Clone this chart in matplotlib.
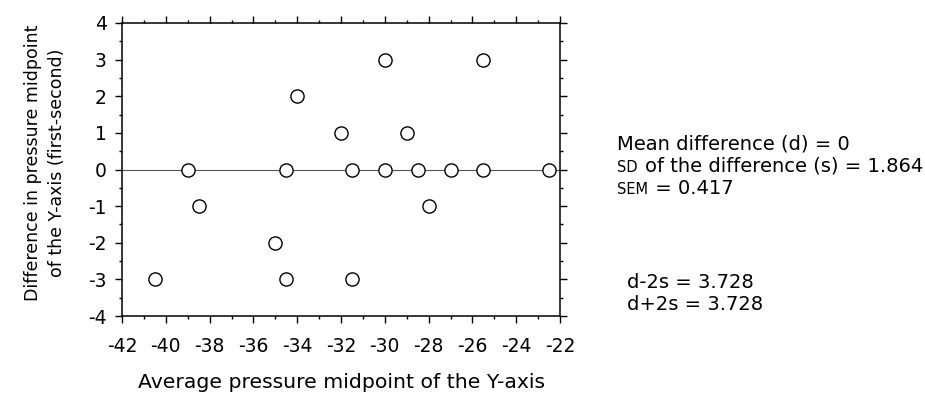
import matplotlib
matplotlib.use("Agg")
import matplotlib.pyplot as plt
from matplotlib.ticker import MultipleLocator

# Bland-Altman style data: average vs difference of Y-axis pressure midpoint
avg_pressure = [-40.5, -39, -38.5, -35, -34.5, -34.5, -34, -32, -31.5, -31.5,
                -30, -30, -29, -28.5, -28, -27, -25.5, -25.5, -22.5]
diff_pressure = [-3, 0, -1, -2, 0, -3, 2, 1, 0, -3,
                 3, 0, 1, 0, -1, 0, 3, 0, 0]

x_ticks = list(range(-42, -21, 2))
y_ticks = list(range(-4, 5))

mean_diff = 0
sd_diff = 1.864
sem_diff = 0.417
d_minus_2s = 3.728
d_plus_2s = 3.728

W, H = 925, 394
plt.rcParams["font.family"] = ["DejaVu Sans"]

fig = plt.figure(figsize=(W / 100, H / 100), dpi=100)
ax = fig.add_axes([122 / W, 1 - 316 / H, (560 - 122) / W, (316 - 23) / H])

ax.axhline(mean_diff, color="#555555", lw=0.8, zorder=1)
ax.plot(avg_pressure, diff_pressure, "o", ms=9.5, mfc="white", mec="black",
        mew=1.0, zorder=3)

ax.set_xlim(x_ticks[0], x_ticks[-1])
ax.set_ylim(y_ticks[0], y_ticks[-1])
ax.set_xticks(x_ticks)
ax.set_yticks(y_ticks)
ax.set_xticklabels([str(t) for t in x_ticks])
ax.set_yticklabels([str(t) for t in y_ticks])
ax.xaxis.set_minor_locator(MultipleLocator(1))
ax.yaxis.set_minor_locator(MultipleLocator(0.5))
ax.tick_params(which="both", direction="out", top=True, right=True,
               labelsize=13.5, width=1.0)
ax.tick_params(axis="x", pad=10)
ax.tick_params(axis="y", pad=6)
ax.tick_params(which="major", length=5)
ax.tick_params(which="minor", length=2.5)
for sp in ax.spines.values():
    sp.set_linewidth(1.1)

ax.set_xlabel("Average pressure midpoint of the Y-axis", fontsize=14.7, labelpad=12)
fig.text(45 / W, 1 - 163 / H, "Difference in pressure midpoint\nof the Y-axis (first-second)",
         rotation=90, ha="center", va="center", fontsize=12.5, linespacing=1.38)

# statistics block on the right
fs = 14
sc = 10.5
fig.text(617 / W, 1 - 150 / H, f"Mean difference (d) = {mean_diff}",
         fontsize=fs, va="baseline")
t_sd = fig.text(617 / W, 1 - 172 / H, "SD", fontsize=sc, va="baseline")
t_sem = fig.text(617 / W, 1 - 194 / H, "SEM", fontsize=sc, va="baseline")
fig.text(627 / W, 1 - 288 / H, f"d-2s = {d_minus_2s}", fontsize=fs, va="baseline")
fig.text(627 / W, 1 - 310 / H, f"d+2s = {d_plus_2s}", fontsize=fs, va="baseline")

fig.canvas.draw()
r = fig.canvas.get_renderer()
e_sd = t_sd.get_window_extent(r)
e_sem = t_sem.get_window_extent(r)
fig.text((e_sd.x1 + 7) / W, 1 - 172 / H, f"of the difference (s) = {sd_diff}",
         fontsize=fs, va="baseline")
fig.text((e_sem.x1 + 1) / W, 1 - 194 / H, f" = {sem_diff}", fontsize=fs, va="baseline")

fig.savefig("out.png", dpi=100)
